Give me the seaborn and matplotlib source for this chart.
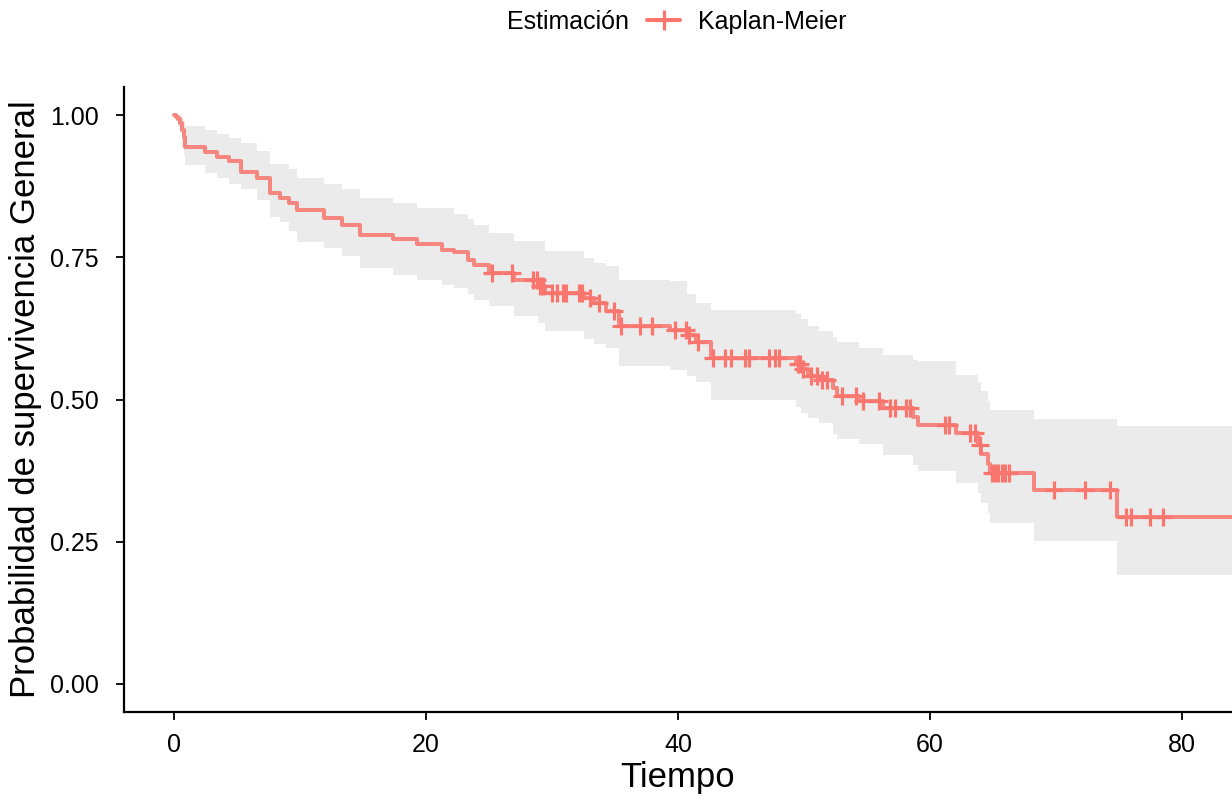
import numpy as np
import pandas as pd
import matplotlib
matplotlib.use("Agg")
import matplotlib.pyplot as plt
import seaborn as sns
from matplotlib.lines import Line2D

# Kaplan-Meier step function: time at which survival changes and the new value
time_pts = [0.0, 0.1, 0.3, 0.45, 0.6, 0.75, 0.87, 2.46, 3.39, 4.31, 5.3, 6.56, 7.62,
            8.41, 9.07, 9.74, 11.85, 13.3, 14.76, 17.4, 19.26, 21.24, 22.17,
            23.36, 23.76, 24.95, 27.0, 28.9, 29.4, 32.5, 33.3, 34.3, 35.3,
            39.4, 40.7, 41.4, 42.6, 49.4, 49.8, 50.3, 51.2, 52.3, 52.6, 54.4,
            56.3, 58.7, 59.1, 62.1, 63.8, 64.1, 64.6, 64.8, 68.3, 74.9]
surv = [1.000, 0.997, 0.993, 0.986, 0.975, 0.962, 0.944, 0.935, 0.927, 0.920, 0.900,
        0.890, 0.864, 0.855, 0.845, 0.833, 0.820, 0.808, 0.790, 0.782,
        0.773, 0.764, 0.759, 0.746, 0.736, 0.723, 0.710, 0.700, 0.688,
        0.679, 0.670, 0.656, 0.629, 0.622, 0.613, 0.601, 0.573, 0.562,
        0.553, 0.541, 0.535, 0.520, 0.506, 0.497, 0.485, 0.470, 0.456,
        0.441, 0.420, 0.404, 0.386, 0.370, 0.341, 0.293]
# 95% confidence limits on the same steps
lower = [1.000, 0.990, 0.980, 0.971, 0.945, 0.930, 0.912, 0.899, 0.890, 0.879, 0.870,
         0.852, 0.822, 0.813, 0.796, 0.778, 0.767, 0.752, 0.732, 0.720,
         0.711, 0.702, 0.697, 0.685, 0.676, 0.664, 0.647, 0.635, 0.620,
         0.606, 0.598, 0.591, 0.559, 0.552, 0.541, 0.530, 0.500, 0.487,
         0.476, 0.468, 0.459, 0.440, 0.430, 0.421, 0.403, 0.385, 0.374,
         0.353, 0.335, 0.318, 0.300, 0.283, 0.251, 0.192]
upper = [1.000, 1.000, 1.000, 1.000, 0.995, 0.990, 0.981, 0.975, 0.967, 0.961, 0.951,
         0.937, 0.914, 0.914, 0.905, 0.890, 0.879, 0.870, 0.855, 0.845,
         0.837, 0.837, 0.826, 0.818, 0.808, 0.793, 0.779, 0.779, 0.761,
         0.749, 0.740, 0.735, 0.711, 0.708, 0.685, 0.670, 0.658, 0.650,
         0.641, 0.629, 0.620, 0.610, 0.602, 0.591, 0.579, 0.570, 0.567,
         0.544, 0.530, 0.515, 0.497, 0.482, 0.466, 0.453]
# censored observations
censor_times = [25.2, 26.8, 28.5, 28.8, 29.0, 29.3, 30.0, 30.4, 30.9, 31.1, 32.1,
                32.4, 33.0, 33.7, 34.9, 35.5, 37.0, 37.9, 39.8, 40.6, 40.9,
                41.6, 42.8, 43.7, 44.2, 45.3, 45.6, 47.2, 47.7, 48.0, 49.5,
                49.7, 49.9, 50.6, 51.0, 51.4, 51.8, 53.0, 54.1, 54.7, 56.0,
                56.8, 57.2, 58.1, 58.4, 61.2, 61.5, 63.2, 63.6, 64.0, 64.9,
                65.2, 65.4, 65.7, 66.0, 66.3, 69.9, 72.3, 74.3, 75.6, 76.0,
                77.5, 78.5]
x_end = 84.0
x_ticks = [0, 20, 40, 60, 80]
y_ticks = [0.00, 0.25, 0.50, 0.75, 1.00]
y_tick_labels = ["0.00", "0.25", "0.50", "0.75", "1.00"]

curve_color = "#F8766D"
band_color = "#EBEBEB"

sns.set_style("ticks")
plt.rcParams["font.family"] = ["Liberation Sans", "DejaVu Sans"]
plt.rcParams["text.color"] = "black"
plt.rcParams["axes.labelcolor"] = "black"

fig = plt.figure(figsize=(12.32, 8.0), dpi=100)
ax = fig.add_axes([124 / 1232, 88 / 800, 1 - 124 / 1232, (712 - 87) / 800])

# extend the last step to the right edge
t_ext = time_pts + [x_end]
s_ext = surv + [surv[-1]]
lo_ext = lower + [lower[-1]]
hi_ext = upper + [upper[-1]]

ax.fill_between(t_ext, lo_ext, hi_ext, step="post", color=band_color,
                linewidth=0, zorder=1)

km = pd.DataFrame({"Tiempo": t_ext, "Supervivencia": s_ext})
sns.lineplot(data=km, x="Tiempo", y="Supervivencia", drawstyle="steps-post",
             color=curve_color, alpha=0.85, linewidth=2.9, estimator=None,
             ax=ax, zorder=2)

idx = np.searchsorted(time_pts, censor_times, side="right") - 1
cens = pd.DataFrame({"Tiempo": censor_times,
                     "Supervivencia": np.asarray(surv)[idx]})
sns.scatterplot(data=cens, x="Tiempo", y="Supervivencia", marker="+", s=150,
                color=curve_color, linewidth=2.3, ax=ax, zorder=3)

ax.set_xlim(-4, x_end)
ax.set_ylim(-0.05, 1.05)
ax.set_xticks(x_ticks)
ax.set_yticks(y_ticks)
ax.set_yticklabels(y_tick_labels)
ax.tick_params(axis="both", labelsize=18, length=6, width=1.3, color="black",
               labelcolor="black")
ax.tick_params(axis="y", pad=12)
ax.tick_params(axis="x", pad=9)
for side in ["left", "bottom"]:
    ax.spines[side].set_linewidth(1.6)
    ax.spines[side].set_color("black")
sns.despine(ax=ax)

ax.set_xlabel("Tiempo", fontsize=25, labelpad=3)
ax.set_ylabel("Probabilidad de supervivencia General", fontsize=25, labelpad=6)

# legend across the top
fig.text(507 / 1232, 1 - 22 / 800, "Estimación", ha="left", va="center",
         fontsize=18)
handle = Line2D([], [], color=curve_color, marker="+", markersize=14,
                markeredgewidth=2.3, linewidth=2.9)
fig.legend(handles=[handle], labels=["Kaplan-Meier"], loc="center left",
           bbox_to_anchor=(647 / 1232, 1 - 22 / 800), frameon=False,
           fontsize=18, handlelength=1.32, borderaxespad=0, borderpad=0,
           handletextpad=0.72)

fig.savefig("out.png", dpi=100)
